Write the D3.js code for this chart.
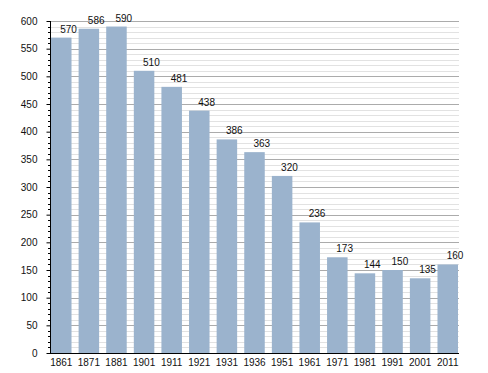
<!DOCTYPE html>
<html>
<head>
<meta charset="utf-8">
<script src="https://cdn.jsdelivr.net/npm/d3@7"></script>
<style>
  body { margin: 0; background: #fff; }
  text { font-family: "Liberation Sans", Arial, sans-serif; }
</style>
</head>
<body>
<svg width="488" height="373"></svg>
<script>
// gadi un iedzīvotāju skaits
const years = ["1861", "1871", "1881", "1901", "1911", "1921", "1931", "1936",
  "1951", "1961", "1971", "1981", "1991", "2001", "2011"];
const population = [570, 586, 590, 510, 481, 438, 386, 363, 320, 236, 173, 144, 150, 135, 160];
const yTicks = [0, 50, 100, 150, 200, 250, 300, 350, 400, 450, 500, 550, 600];

const svg = d3.select("svg");
const plotL = 50, plotR = 459, plotT = 21, plotB = 353;
const font = "'Liberation Sans', Arial, sans-serif";

const x = d3.scaleBand()
  .domain(years)
  .range([plotL + 1, plotR - 1])
  .paddingInner(0.257)
  .paddingOuter(0);

const y = d3.scaleLinear().domain([0, 600]).range([plotB, plotT]);

// režģis: sīkās līnijas ik 10, lielās ik 50
const minor = d3.range(10, 601, 10).filter((v) => v % 50 !== 0);
svg.append("g")
  .selectAll("line")
  .data(minor)
  .enter()
  .append("line")
  .attr("x1", plotL)
  .attr("x2", plotR)
  .attr("y1", (d) => Math.round(y(d)) + 0.5)
  .attr("y2", (d) => Math.round(y(d)) + 0.5)
  .attr("stroke", "#e2e2e2");

svg.append("g")
  .selectAll("line")
  .data(yTicks.slice(1))
  .enter()
  .append("line")
  .attr("x1", plotL)
  .attr("x2", plotR)
  .attr("y1", (d) => Math.round(y(d)) + 0.5)
  .attr("y2", (d) => Math.round(y(d)) + 0.5)
  .attr("stroke", "#ababab");

// stabiņi
svg.append("g")
  .selectAll("rect")
  .data(population)
  .enter()
  .append("rect")
  .attr("x", (d, i) => x(years[i]))
  .attr("y", (d) => y(d))
  .attr("width", x.bandwidth())
  .attr("height", (d) => plotB - y(d))
  .attr("fill", "#9bb3cd");

// vērtības virs stabiņiem
svg.append("g")
  .selectAll("text")
  .data(population)
  .enter()
  .append("text")
  .attr("x", (d, i) => x(years[i]) + x.bandwidth() / 2 - 1)
  .attr("y", (d) => y(d) - 5)
  .attr("font-size", 10)
  .attr("fill", "#111")
  .text((d) => d);

// y ass
const yAxis = d3.axisLeft(y).tickValues(yTicks).tickSize(4).tickPadding(9);
const gy = svg.append("g")
  .attr("transform", `translate(${plotL + 0.5},0)`)
  .call(yAxis);
gy.select(".domain").remove();
gy.selectAll("text").attr("font-size", 10).attr("fill", "#111").style("font-family", font);

svg.append("g")
  .selectAll("line")
  .data(minor)
  .enter()
  .append("line")
  .attr("x1", plotL - 2)
  .attr("x2", plotL)
  .attr("y1", (d) => Math.round(y(d)) + 0.5)
  .attr("y2", (d) => Math.round(y(d)) + 0.5)
  .attr("stroke", "#000");

svg.append("line")
  .attr("x1", plotL + 0.5).attr("x2", plotL + 0.5)
  .attr("y1", plotT).attr("y2", plotB)
  .attr("stroke", "#000");

// x ass
const xAxis = d3.axisBottom(x).tickSize(0).tickPadding(5);
const gx = svg.append("g")
  .attr("transform", `translate(0,${plotB + 0.5})`)
  .call(xAxis);
gx.select(".domain").remove();
gx.selectAll("text").attr("font-size", 10).attr("fill", "#111").style("font-family", font);

svg.append("line")
  .attr("x1", plotL).attr("x2", plotR)
  .attr("y1", plotB + 0.5).attr("y2", plotB + 0.5)
  .attr("stroke", "#000");
</script>
</body>
</html>
